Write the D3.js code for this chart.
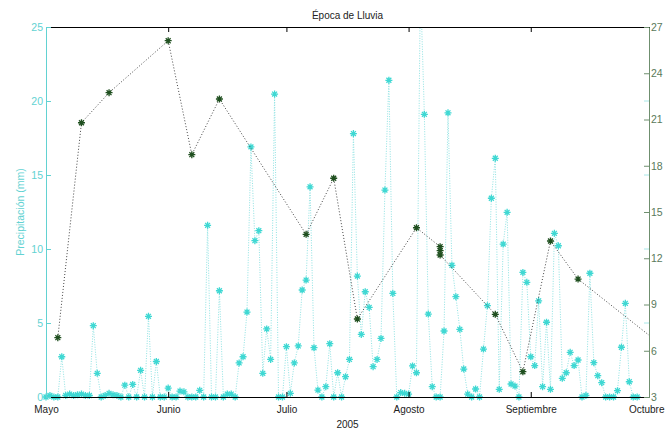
<!DOCTYPE html>
<html>
<head>
<meta charset="utf-8">
<script src="https://cdn.jsdelivr.net/npm/d3@7/dist/d3.min.js"></script>
<style>
  html, body { margin: 0; padding: 0; background: #fff; }
  svg { display: block; font-family: "Liberation Sans", Arial, sans-serif; }
</style>
</head>
<body>
<svg id="chart" width="665" height="432"></svg>
<script>
// ---------- DATA ----------
const title = "Época de Lluvia";
const xLabel = "2005";
const yLeftLabel = "Precipitación (mm)";
const startDate = "2005-05-01";
const endDate = "2005-10-01";
const monthTicks = ["2005-05-01", "2005-06-01", "2005-07-01", "2005-08-01", "2005-09-01", "2005-10-01"];
const monthLabels = ["Mayo", "Junio", "Julio", "Agosto", "Septiembre", "Octubre"];
const leftTicks = [0, 5, 10, 15, 20, 25];
const rightTicks = [3, 6, 9, 12, 15, 18, 21, 24, 27];

// daily precipitation (mm), one value per day from startDate
const precipitation = [
  0, 0.1, 0, 0, 2.72, 0.1, 0.2, 0.1, 0.15, 0.2,
  0.1, 0.1, 4.82, 1.6, 0, 0.1, 0.25, 0.15, 0.1, 0,
  0.8, 0, 0.85, 0, 1.8, 0, 5.45, 0, 2.4, 0,
  0, 0.6, 0, 0, 0.4, 0.35, 0, 0, 0, 0.45,
  0, 11.6, 0, 0, 7.18, 0, 0.2, 0.2, 0, 2.3,
  2.72, 5.74, 16.9, 10.56, 11.24, 1.6, 4.6, 2.54, 20.47, 0,
  0, 3.4, 0.25, 2.3, 3.45, 7.23, 7.9, 14.2, 3.33, 0.47,
  0, 0.7, 3.6, 0, 1.64, 0, 1.37, 2.54, 17.8, 8.17,
  4.23, 7.11, 6.05, 2.05, 2.54, 3.96, 13.98, 21.4, 7.0, 0,
  0.3, 0.25, 0.2, 2.1, 1.64, 28, 19.1, 5.6, 0.7, 0,
  0, 4.46, 19.2, 8.9, 6.78, 4.57, 1.89, 0.2, 0, 0.54,
  0, 3.24, 6.17, 13.43, 16.13, 0.52, 10.33, 12.48, 0.88, 0.74,
  0, 8.42, 7.75, 2.72, 2.12, 6.5, 0.7, 5.05, 0.52, 11.06,
  10.22, 1.26, 1.64, 3.02, 2.12, 2.5, 0, 0.1, 8.36, 2.32,
  1.44, 0.97, 0, 0, 0, 0.43, 3.36, 6.33, 1.03, 0,
  0
];

// second series (right axis)
const rightDates = [
  "2005-05-04", "2005-05-10", "2005-05-17", "2005-06-01", "2005-06-07", "2005-06-14",
  "2005-07-06", "2005-07-13", "2005-07-19", "2005-08-03", "2005-08-09", "2005-08-09",
  "2005-08-09", "2005-08-23", "2005-08-30", "2005-09-06", "2005-09-13", "2005-10-05"
];
const rightValues = [
  6.85, 20.79, 22.74, 26.11, 18.72, 22.33,
  13.55, 17.19, 8.06, 13.98, 12.75, 12.49,
  12.21, 8.36, 4.64, 13.12, 10.65, 6.2
];

// ---------- LAYOUT / STYLE ----------
const L = 46, R = 649, T = 27, B = 397;
const cyan = "#3fd8d3";
const cyanLine = "#8fe3e3";
const cyanText = "#62d2d2";
const greenAxis = "#6f8f6f";
const greenMark = "#1f4f1f";
const fontFam = "'Liberation Sans', Arial, sans-serif";

const parse = d3.timeParse("%Y-%m-%d");
const svg = d3.select("#chart");

const x = d3.scaleTime().domain([parse(startDate), parse(endDate)]).range([L, R]);
const yL = d3.scaleLinear().domain([0, 25]).range([B, T]);
const yR = d3.scaleLinear().domain([3, 27]).range([B, T]);

const start = parse(startDate);
const precipData = precipitation.map((v, i) => ({ date: d3.timeDay.offset(start, i), v }));
const rightData = rightDates.map((d, i) => ({ date: parse(d), v: rightValues[i] }));

const defs = svg.append("defs");
defs.append("clipPath").attr("id", "clipLines")
  .append("rect").attr("x", L).attr("y", T).attr("width", R - L).attr("height", B - T);
defs.append("clipPath").attr("id", "clipMarks")
  .append("rect").attr("x", L - 5).attr("y", T - 2).attr("width", R - L + 8).attr("height", B - T + 8);

// star marker "*"
function starPath(r) {
  const k = r * 0.7;
  return `M${-r},0L${r},0M0,${-r}L0,${r}M${-k},${-k}L${k},${k}M${-k},${k}L${k},${-k}`;
}

// ---------- SERIES: precipitation ----------
const lineL = d3.line().x(d => x(d.date)).y(d => yL(d.v));
svg.append("path")
  .datum(precipData)
  .attr("clip-path", "url(#clipLines)")
  .attr("fill", "none")
  .attr("stroke", cyanLine)
  .attr("stroke-width", 1)
  .attr("stroke-dasharray", "1,1.5")
  .attr("d", lineL);

svg.append("g").attr("clip-path", "url(#clipMarks)")
  .selectAll("path.pm")
  .data(precipData)
  .join("path")
  .attr("class", "pm")
  .attr("transform", d => `translate(${x(d.date)},${yL(d.v)})`)
  .attr("d", starPath(3.5))
  .attr("fill", "none")
  .attr("stroke", cyan)
  .attr("stroke-width", 1.3);

// ---------- SERIES: right axis ----------
const lineR = d3.line().x(d => x(d.date)).y(d => yR(d.v));
svg.append("path")
  .datum(rightData)
  .attr("clip-path", "url(#clipLines)")
  .attr("fill", "none")
  .attr("stroke", "#444")
  .attr("stroke-width", 1)
  .attr("stroke-dasharray", "1,2")
  .attr("d", lineR);

svg.append("g").attr("clip-path", "url(#clipLines)")
  .selectAll("path.rm")
  .data(rightData)
  .join("path")
  .attr("class", "rm")
  .attr("transform", d => `translate(${x(d.date)},${yR(d.v)})`)
  .attr("d", starPath(3.5))
  .attr("fill", "none")
  .attr("stroke", greenMark)
  .attr("stroke-width", 1.3);

// ---------- AXES ----------
const monthDates = monthTicks.map(parse);
const labelFor = d => monthLabels[monthDates.findIndex(m => +m === +d)];

const gx = svg.append("g").attr("transform", `translate(0,${B})`)
  .call(d3.axisBottom(x).tickValues(monthDates).tickFormat(labelFor)
    .tickSizeInner(-5).tickSizeOuter(0).tickPadding(9));
gx.select(".domain").attr("stroke", "#000");
gx.selectAll(".tick line").attr("stroke", "#000");
gx.selectAll(".tick text").attr("fill", "#222").style("font-size", "10px")
  .style("font-family", fontFam);
// last month label sits at the window edge: keep it fully visible
gx.selectAll(".tick text").filter((d, i, n) => i === n.length - 1)
  .attr("text-anchor", "end").attr("x", 665 - R - 1);

const gt = svg.append("g").attr("transform", `translate(0,${T})`)
  .call(d3.axisTop(x).tickValues(monthDates).tickFormat("")
    .tickSizeInner(-5).tickSizeOuter(0));
gt.select(".domain").attr("stroke", "#000");
gt.selectAll(".tick line").attr("stroke", "#000");

const gl = svg.append("g").attr("transform", `translate(${L},0)`)
  .call(d3.axisLeft(yL).tickValues(leftTicks).tickSizeInner(-5).tickSizeOuter(0).tickPadding(3));
gl.select(".domain").attr("stroke", cyanText);
gl.selectAll(".tick line").attr("stroke", cyanText);
gl.selectAll(".tick text").attr("fill", cyanText).style("font-size", "10.5px")
  .style("font-family", fontFam);

// faint left-axis ticks mirrored on the right edge
svg.append("g").selectAll("line.mirror")
  .data(leftTicks.filter(t => t > 0 && t < 25))
  .join("line")
  .attr("x1", R - 5).attr("x2", R)
  .attr("y1", d => yL(d)).attr("y2", d => yL(d))
  .attr("stroke", "#a8e8e8");

const gr = svg.append("g").attr("transform", `translate(${R},0)`)
  .call(d3.axisRight(yR).tickValues(rightTicks).tickSizeInner(-5).tickSizeOuter(0).tickPadding(2));
gr.select(".domain").attr("stroke", greenAxis);
gr.selectAll(".tick line").attr("stroke", greenAxis);
gr.selectAll(".tick text").attr("fill", "#5a7a5a").style("font-size", "10.5px")
  .style("font-family", fontFam);

// ---------- TEXT ----------
svg.append("text")
  .attr("x", (L + R) / 2).attr("y", 19)
  .attr("text-anchor", "middle")
  .attr("fill", "#222").style("font-size", "10px")
  .text(title);

svg.append("text")
  .attr("x", (L + R) / 2).attr("y", 428)
  .attr("text-anchor", "middle")
  .attr("fill", "#222").style("font-size", "10px")
  .text(xLabel);

svg.append("text")
  .attr("transform", `translate(24,${(T + B) / 2}) rotate(-90)`)
  .attr("text-anchor", "middle")
  .attr("fill", cyanText).style("font-size", "10.5px")
  .text(yLeftLabel);
</script>
</body>
</html>
